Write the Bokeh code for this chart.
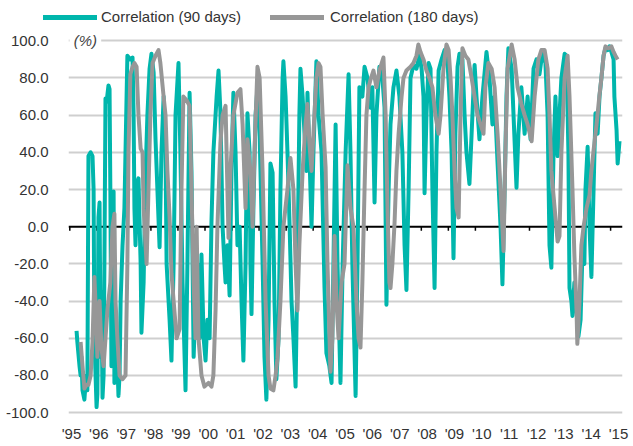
from bokeh.plotting import figure
from bokeh.layouts import column
from bokeh.models import (Range1d, LinearAxis, FixedTicker, NumeralTickFormatter, Span, Label, Div)
from bokeh.embed import file_html
from bokeh.resources import INLINE

TEAL = "#00b6ac"
GRAY = "#979797"
FONT = "Liberation Sans"
TXT = "#333333"

# ---- data: correlation in %, dates as decimal years ----
teal_t = [1995.25, 1995.28, 1995.36, 1995.40, 1995.43, 1995.47, 1995.54, 1995.58, 1995.62, 1995.65, 1995.69, 1995.77, 1995.84, 1995.88, 1995.91, 1995.99,
          1996.02, 1996.06, 1996.10, 1996.14, 1996.17, 1996.21, 1996.25, 1996.28, 1996.32, 1996.36, 1996.43, 1996.47, 1996.50, 1996.54, 1996.58, 1996.62, 1996.65, 1996.73, 1996.80, 1996.84, 1996.88, 1996.95,
          1997.02, 1997.10, 1997.13, 1997.24, 1997.32, 1997.36, 1997.39, 1997.43, 1997.50, 1997.54, 1997.62, 1997.65, 1997.73, 1997.80, 1997.87, 1997.95,
          1998.02, 1998.10, 1998.17, 1998.24, 1998.32, 1998.39, 1998.47, 1998.54, 1998.58, 1998.69, 1998.76, 1998.84, 1998.91,
          1999.02, 1999.09, 1999.17, 1999.28, 1999.35, 1999.43, 1999.50, 1999.58, 1999.65, 1999.72, 1999.80, 1999.87, 1999.95,
          2000.02, 2000.09, 2000.17, 2000.24, 2000.31, 2000.43, 2000.50, 2000.57, 2000.65, 2000.72, 2000.76, 2000.83, 2000.91, 2000.98,
          2001.05, 2001.13, 2001.20, 2001.28, 2001.35, 2001.42, 2001.50, 2001.57, 2001.65, 2001.68, 2001.72, 2001.79, 2001.87, 2001.94,
          2002.02, 2002.13, 2002.20, 2002.27, 2002.35, 2002.42, 2002.50, 2002.57, 2002.64, 2002.72, 2002.79, 2002.87, 2002.90, 2002.98,
          2003.05, 2003.13, 2003.20, 2003.27, 2003.35, 2003.42, 2003.49, 2003.53, 2003.61, 2003.68, 2003.75, 2003.79, 2003.86, 2003.94,
          2004.01, 2004.12, 2004.20, 2004.31, 2004.42, 2004.49, 2004.60, 2004.68, 2004.75, 2004.83, 2004.90,
          2005.01, 2005.09, 2005.20, 2005.31, 2005.38, 2005.45, 2005.57, 2005.64, 2005.71, 2005.82, 2005.90,
          2006.01, 2006.12, 2006.19, 2006.27, 2006.34, 2006.45, 2006.56, 2006.64, 2006.71, 2006.79, 2006.86, 2006.97,
          2007.08, 2007.19, 2007.30, 2007.38, 2007.45, 2007.53, 2007.60, 2007.71, 2007.82, 2007.93,
          2008.01, 2008.08, 2008.12, 2008.19, 2008.27, 2008.34, 2008.41, 2008.49, 2008.56, 2008.64, 2008.75, 2008.86, 2008.97,
          2009.04, 2009.12, 2009.19, 2009.26, 2009.34, 2009.41, 2009.52, 2009.60, 2009.67, 2009.78, 2009.86, 2009.97,
          2010.04, 2010.15, 2010.26, 2010.41, 2010.52, 2010.63, 2010.71, 2010.82, 2010.93,
          2011.00, 2011.08, 2011.15, 2011.22, 2011.34, 2011.41, 2011.52, 2011.59, 2011.70, 2011.82, 2011.93,
          2012.04, 2012.15, 2012.26, 2012.37, 2012.48, 2012.59, 2012.67, 2012.74, 2012.81, 2012.89, 2012.96,
          2013.04, 2013.11, 2013.18, 2013.30, 2013.37, 2013.44, 2013.48, 2013.55, 2013.59, 2013.66, 2013.74, 2013.81, 2013.89, 2013.96,
          2014.03, 2014.07, 2014.15, 2014.22, 2014.29, 2014.37, 2014.44, 2014.52, 2014.59, 2014.66, 2014.74, 2014.81, 2014.89, 2014.96,
          2015.03, 2015.11, 2015.14, 2015.22, 2015.26, 2015.33]
teal_v = [-56, -62, -75, -80, -70, -88, -93, -85, -80, -88, 38, 40, 38, 20, -60, -97,
          -90, 5, 13, -70, -35, -92, -80, -20, 69, 67, 76, 74, 20, -75, -24, 19, -84, -60, -91, -80, -40, -10,
          10, 70, 92, 90, 91, 60, 10, -10, 24, 26, -20, -57, -30, 27, 60, 85,
          93, 83, 47, 20, -11, 40, 70, 40, -20, -50, -72, -20, 60,
          88, 40, -30, -88, -20, 72, 30, -70, -40, -20, -60, -15, -60,
          -72, -50, -60, 3, 40, 70, 84, 62, 0, -20, -30, -10, -37, 30,
          72, 40, -10, 0, -40, -72, -20, 61, 40, -20, -47, 10, 60, 75,
          50, -20, -70, -93, -50, 34, 29, -40, -82, -60, 20, 80, 89, 70,
          40, 0, -40, -60, -86, -20, 60, 85, 70, 50, 30, 72, 40, 0,
          40, 89, 60, 40, -33, -68, -75, -84, -20, 55, -20,
          -84, -20, 40, 82, 40, -20, -91, -20, 75, 70, 86,
          80, 64, 75, 13, 60, 86, 80, 64, -42, 20, 55, 75,
          84, 70, 40, -10, -34, 20, 80, 87, 85, 92,
          85, 70, 18, 60, 88, 85, 20, -33, 40, 84, 90, 95, 88,
          70, 40, -17, 50, 86, 93, 90, 60, 40, 23, 50, 87,
          70, 47, 70, 94, 80, 55, 70, 34, 0,
          -31, 20, 70, 96, 85, 60, 21, 50, 75, 50, 70,
          47, 85, 90, 82, 94, 88, 60, -10, -22, 40, 70,
          38, 60, 80, 93, 92, 40, -33, -40, -48, -30, -45, -59, -50, -13,
          -20, 20, 43, 0, -27, 20, 61, 50, 70, 80, 92, 96, 95, 97,
          94, 90, 70, 52, 34, 46]

gray_t = [1995.40, 1995.47, 1995.54, 1995.62, 1995.69, 1995.77, 1995.84, 1995.91, 1995.99,
          1996.02, 1996.10, 1996.17, 1996.25, 1996.32, 1996.39, 1996.50, 1996.58, 1996.65, 1996.69, 1996.76, 1996.84, 1996.95,
          1997.06, 1997.13, 1997.17, 1997.24, 1997.32, 1997.39, 1997.47, 1997.54, 1997.62, 1997.69, 1997.73, 1997.84, 1997.91, 1997.98,
          1998.06, 1998.17, 1998.28, 1998.35, 1998.47, 1998.54, 1998.61, 1998.69, 1998.76, 1998.84, 1998.95,
          1999.06, 1999.13, 1999.20, 1999.32, 1999.43, 1999.50, 1999.58, 1999.65, 1999.69, 1999.76, 1999.87, 1999.98,
          2000.13, 2000.24, 2000.31, 2000.39, 2000.46, 2000.57, 2000.65, 2000.76, 2000.87, 2000.94,
          2001.05, 2001.20, 2001.31, 2001.39, 2001.50, 2001.57, 2001.68, 2001.76, 2001.83, 2001.94,
          2002.02, 2002.13, 2002.24, 2002.35, 2002.42, 2002.53, 2002.61, 2002.68, 2002.79, 2002.90,
          2003.05, 2003.16, 2003.27, 2003.35, 2003.42, 2003.49, 2003.61, 2003.72, 2003.79, 2003.86, 2003.94,
          2004.01, 2004.12, 2004.20, 2004.27, 2004.35, 2004.46, 2004.53, 2004.64, 2004.71, 2004.79, 2004.86, 2004.94,
          2005.05, 2005.16, 2005.27, 2005.38, 2005.49, 2005.60, 2005.68, 2005.75, 2005.82, 2005.90, 2005.97,
          2006.05, 2006.12, 2006.23, 2006.34, 2006.45, 2006.60, 2006.68, 2006.75, 2006.82, 2006.86, 2006.93,
          2007.01, 2007.08, 2007.16, 2007.27, 2007.34, 2007.45, 2007.60, 2007.71, 2007.82, 2007.89, 2007.97,
          2008.08, 2008.19, 2008.30, 2008.41, 2008.52, 2008.64, 2008.71, 2008.82, 2008.93,
          2009.01, 2009.08, 2009.15, 2009.23, 2009.30, 2009.38, 2009.45, 2009.52, 2009.63, 2009.74, 2009.86, 2009.97,
          2010.08, 2010.19, 2010.30, 2010.37, 2010.48, 2010.60, 2010.71, 2010.82, 2010.93,
          2011.04, 2011.11, 2011.19, 2011.34, 2011.45, 2011.56, 2011.70, 2011.82, 2011.93,
          2012.08, 2012.19, 2012.33, 2012.44, 2012.56, 2012.67, 2012.74, 2012.81, 2012.93,
          2013.04, 2013.11, 2013.18, 2013.30, 2013.41, 2013.48, 2013.52, 2013.59, 2013.66, 2013.74, 2013.77, 2013.85, 2013.92,
          2014.00, 2014.11, 2014.22, 2014.29, 2014.37, 2014.48, 2014.59, 2014.66, 2014.74, 2014.81, 2014.92,
          2015.03, 2015.11, 2015.18, 2015.26]
gray_v = [-62, -75, -87, -85, -85, -80, -62, -27, -55,
          -70, -40, -65, -75, -60, -45, -30, 0, 7, -40, -60, -80, -82,
          -80, -20, 40, 82, 86, 88, 86, 60, 42, 40, 10, -20, 20, 60,
          88, 92, 95, 88, 70, 60, 30, 5, -25, -40, -60,
          -55, 20, 70, 68, 65, 20, -30, -60, 0, -60, -80, -86,
          -84, -86, -80, -45, 0, 45, 60, 65, -6, 30,
          60, 72, 74, 55, 10, 47, 30, 0, 40, 86,
          80, 29, -40, -80, -87, -88, -80, -71, -40, 0,
          20, 37, 20, -20, -45, -10, 30, 55, 66, 45, 30,
          50, 80, 88, 86, 60, 32, -20, -78, -60, -5, -40, -60,
          -30, -20, 33, 10, 0, -40, -60, -65, -30, 20, 60,
          75, 79, 84, 75, 84, 91, 60, 10, -30, -33, -20,
          2, 30, 50, 70, 80, 84, 86, 88, 92, 98, 94,
          90, 84, 80, 75, 60, 50, 60, 85, 98,
          95, 80, 60, 30, 10, 5, 60, 96, 92, 90, 80, 70,
          60, 55, 50, 75, 88, 85, 75, 50, 20,
          -13, 40, 85, 98, 90, 75, 66, 60, 55,
          46, 70, 90, 95, 95, 85, 60, 30, 10,
          -8, -5, 40, 80, 92, 70, 52, 20, -15, -45, -63, -40, -10,
          0, 10, 17, 30, 41, 55, 71, 80, 92, 97, 96,
          97, 94, 92, 90]

series_names = ["Correlation (90 days)", "Correlation (180 days)"]
series_colors = [TEAL, GRAY]
year_ticks = list(range(1995, 2016))
year_labels = ["'95", "'96", "'97", "'98", "'99", "'00", "'01", "'02", "'03", "'04", "'05",
               "'06", "'07", "'08", "'09", "'10", "'11", "'12", "'13", "'14", "'15"]
y_ticks = [-100, -80, -60, -40, -20, 0, 20, 40, 60, 80, 100]

# ---------- legend (HTML strip above the chart) ----------
swatch_left = [43, 270]
text_left = [101, 330]
parts = []
for name, col, sl, tl in zip(series_names, series_colors, swatch_left, text_left):
    parts.append(f'<span style="position:absolute;left:{sl}px;top:15px;width:54px;height:5px;'
                 f'background:{col};"></span>')
    parts.append(f'<span style="position:absolute;left:{tl}px;top:8px;line-height:18px;'
                 f'white-space:nowrap;">{name}</span>')
legend_html = (f'<div style="position:relative;width:630px;height:31px;font-family:\'{FONT}\';'
               f'font-size:15px;color:{TXT};">' + "".join(parts) + '</div>')
legend_div = Div(text=legend_html, width=630, height=31, margin=0)

# ---------- main chart ----------
p = figure(width=630, height=415,
           x_range=Range1d(1994.952, 2015.44), y_range=Range1d(-101, 105),
           output_backend="svg", toolbar_location=None,
           min_border_left=68, min_border_right=8, min_border_top=0, min_border_bottom=32)
p.outline_line_color = None
p.background_fill_color = "white"
p.border_fill_color = "white"

p.xaxis.visible = False
p.xgrid.visible = False
p.ygrid.ticker = FixedTicker(ticks=[t for t in y_ticks if t != 0])
p.ygrid.grid_line_color = "#cfcfcf"
p.ygrid.grid_line_width = 2

yax = p.yaxis[0]
yax.ticker = FixedTicker(ticks=y_ticks)
yax.formatter = NumeralTickFormatter(format="0.0")
yax.axis_line_color = None
yax.major_tick_line_color = None
yax.minor_tick_line_color = None
yax.major_tick_out = 0
yax.major_tick_in = 0
yax.major_label_standoff = 20
yax.major_label_text_font = FONT
yax.major_label_text_font_size = "15px"
yax.major_label_text_color = TXT

p.extra_x_ranges = {"lab": Range1d(1994.890, 2015.146)}
xax = LinearAxis(x_range_name="lab", ticker=FixedTicker(ticks=year_ticks),
                 major_label_overrides={y: l for y, l in zip(year_ticks, year_labels)})
xax.axis_line_color = None
xax.major_tick_line_color = None
xax.minor_tick_line_color = None
xax.major_tick_out = 0
xax.major_tick_in = 0
xax.major_label_standoff = 10
xax.major_label_text_font = FONT
xax.major_label_text_font_size = "15px"
xax.major_label_text_color = TXT
p.add_layout(xax, "below")

zero = Span(location=0, dimension="width", line_color="black", line_width=2, level="underlay")
p.add_layout(zero)
p.segment(x0=year_ticks, y0=[0] * len(year_ticks), x1=year_ticks, y1=[-2.2] * len(year_ticks),
          line_color="black", line_width=1.5)

p.line(teal_t, teal_v, line_color=TEAL, line_width=4, line_join="round")
p.line(gray_t, gray_v, line_color=GRAY, line_width=4, line_join="round")

pct = Label(x=1994.99, y=100, text="\u00a0(%)\u00a0", text_font=FONT, text_font_style="italic",
            text_font_size="15px", text_color="#444444", text_baseline="middle",
            background_fill_color="white")
p.add_layout(pct)

layout = column(legend_div, p, spacing=0)
open("out.html", "w").write(file_html(layout, INLINE))
